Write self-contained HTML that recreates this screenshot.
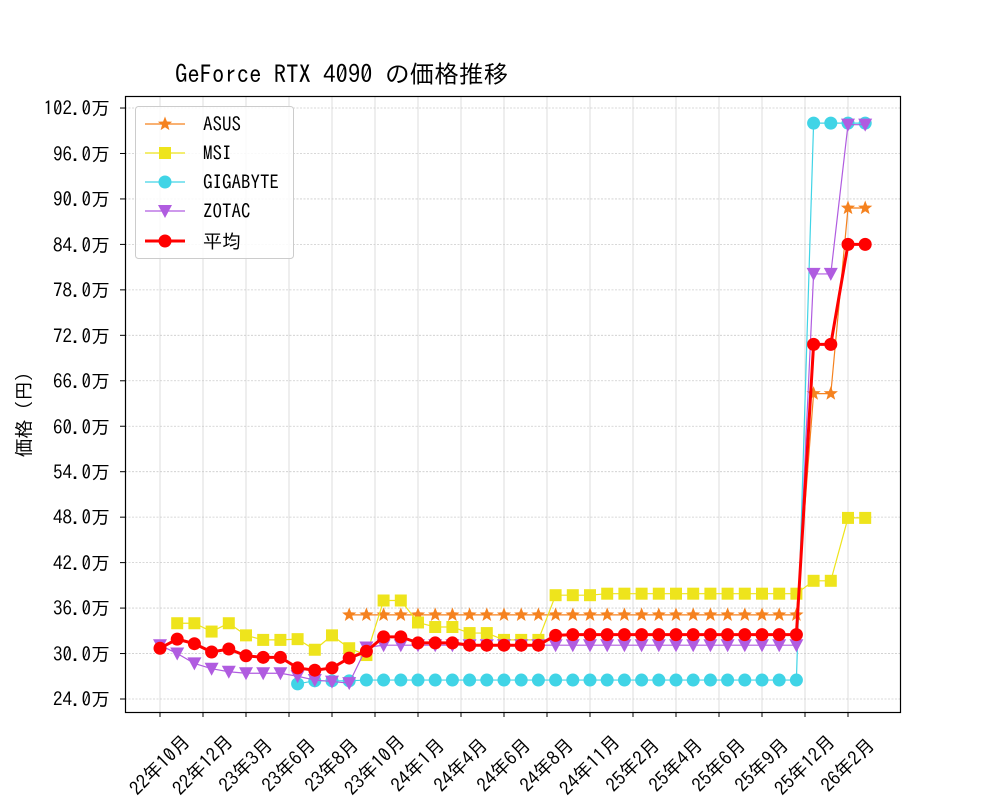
<!DOCTYPE html>
<html><head><meta charset="utf-8"><style>
html,body{margin:0;padding:0;background:#fff;}
svg text{font-family:"IPAGothic","Noto Sans CJK JP",monospace;fill:#000;}
</style></head><body>
<svg id="s" width="1000" height="800" xmlns="http://www.w3.org/2000/svg">
<rect width="1000" height="800" fill="#fff"/>
<g id="grid"></g>
<text x="175" y="83" font-size="24.7">GeForce RTX 4090 の価格推移</text>
<g font-size="19" text-anchor="end">
<text x="110" y="115">102.0万</text><text x="110" y="161">96.0万</text><text x="110" y="206">90.0万</text>
<text x="110" y="252">84.0万</text><text x="110" y="297">78.0万</text><text x="110" y="343">72.0万</text>
<text x="110" y="388">66.0万</text><text x="110" y="434">60.0万</text><text x="110" y="479">54.0万</text>
<text x="110" y="524">48.0万</text><text x="110" y="570">42.0万</text><text x="110" y="615">36.0万</text>
<text x="110" y="661">30.0万</text><text x="110" y="706">24.0万</text>
</g>
<text transform="translate(24,410) rotate(-90)" font-size="19" text-anchor="middle" dominant-baseline="central">価格（円）</text>
<g font-size="19" text-anchor="middle" dominant-baseline="central">
<text transform="translate(160,765) rotate(-45)">22年10月</text>
<text transform="translate(203,765) rotate(-45)">22年12月</text>
<text transform="translate(246,765) rotate(-45)">23年3月</text>
<text transform="translate(289,765) rotate(-45)">23年6月</text>
<text transform="translate(332,765) rotate(-45)">23年8月</text>
<text transform="translate(375,765) rotate(-45)">23年10月</text>
<text transform="translate(418,765) rotate(-45)">24年1月</text>
<text transform="translate(461,765) rotate(-45)">24年4月</text>
<text transform="translate(504,765) rotate(-45)">24年6月</text>
<text transform="translate(547,765) rotate(-45)">24年8月</text>
<text transform="translate(590,765) rotate(-45)">24年11月</text>
<text transform="translate(633,765) rotate(-45)">25年2月</text>
<text transform="translate(676,765) rotate(-45)">25年4月</text>
<text transform="translate(719,765) rotate(-45)">25年6月</text>
<text transform="translate(762,765) rotate(-45)">25年9月</text>
<text transform="translate(805,765) rotate(-45)">25年12月</text>
<text transform="translate(848,765) rotate(-45)">26年2月</text>
</g>
<g id="series"></g>
<rect x="125.5" y="96.5" width="775" height="616" fill="none" stroke="#000" stroke-width="1.2"/>
<g id="legend">
<rect x="135.5" y="106.5" width="158" height="152" rx="3" fill="#fff" fill-opacity="0.85" stroke="#ccc"/>
<g font-size="19">
<text x="203" y="131">ASUS</text><text x="203" y="160">MSI</text><text x="203" y="189">GIGABYTE</text>
<text x="203" y="218">ZOTAC</text><text x="203" y="248">平均</text>
</g>
</g>
</svg>
<script>
const NS="http://www.w3.org/2000/svg";
function el(p,t,a){const e=document.createElementNS(NS,t);for(const k in a)e.setAttribute(k,a[k]);p.appendChild(e);return e;}
const grid=document.getElementById('grid');
for(let i=0;i<17;i++){const x=160+43*i;el(grid,'line',{x1:x,x2:x,y1:96,y2:712,stroke:'#ddd','stroke-width':1});
el(grid,'line',{x1:x,x2:x,y1:712,y2:717,stroke:'#000'});}
for(let i=0;i<=13;i++){const y=699-45.46*i;el(grid,'line',{x1:125,x2:900,y1:y,y2:y,stroke:'#ccc','stroke-width':0.8,'stroke-dasharray':'2,1.5'});
el(grid,'line',{x1:120,x2:125,y1:y,y2:y,stroke:'#000'});}
const X=i=>160+17.2*i, Y=v=>699-(v-24)*7.577;
const rep=(v,n)=>Array(n).fill(v);
const N=null;
const asus=[...rep(N,11),...rep(35.1,27),64.3,64.3,88.8,88.8];
const msi=[N,34,34,32.9,34,32.4,31.8,31.8,31.9,30.5,32.4,30.7,29.8,37,37,34.1,33.5,33.5,32.7,32.7,31.8,31.8,31.8,37.7,37.7,37.7,...rep(37.9,12),39.6,39.6,47.9,47.9];
const giga=[...rep(N,8),26,26.4,26.4,26.4,...rep(26.5,26),100,100,100,100];
const zot=[31.1,30,28.7,28,27.6,27.4,27.4,27.4,27,26.5,26.3,26.1,30.8,...rep(31.1,25),80.1,80.1,99.8,99.8];
const avg=[30.7,31.9,31.3,30.2,30.6,29.7,29.5,29.5,28.1,27.8,28.1,29.4,30.3,32.2,32.2,31.4,31.4,31.4,31.1,31.1,31.1,31.1,31.1,32.4,...rep(32.5,14),70.8,70.8,84,84];
const sg=document.getElementById('series'), lg=document.getElementById('legend');
function star(g,x,y,r,c){let p=[];for(let k=0;k<10;k++){const a=-Math.PI/2+k*Math.PI/5,rr=k%2?r*0.42:r;p.push((x+rr*Math.cos(a)).toFixed(1)+','+(y+rr*Math.sin(a)).toFixed(1));}el(g,'polygon',{points:p.join(' '),fill:c});}
function mk(g,type,x,y,c){
 if(type==='s')el(g,'rect',{x:x-6,y:y-6,width:12,height:12,fill:c});
 else if(type==='o'||type==='O')el(g,'circle',{cx:x,cy:y,r:6.5,fill:c});
 else if(type==='v')el(g,'polygon',{points:`${x-7},${y-6} ${x+7},${y-6} ${x},${y+7}`,fill:c});
 else if(type==='*')star(g,x,y,7.5,c);
}
function series(d,c,type,w,ly){
 let pts=[];d.forEach((v,i)=>{if(v!==null)pts.push([X(i),Y(v)]);});
 el(sg,'polyline',{points:pts.map(p=>p.join(',')).join(' '),fill:'none',stroke:c,'stroke-width':w});
 pts.forEach(p=>mk(sg,type,p[0],p[1],c));
 el(lg,'line',{x1:145,x2:185,y1:ly,y2:ly,stroke:c,'stroke-width':w});mk(lg,type,165,ly,c);
}
series(asus,'#f5821f','*',1.2,124);
series(msi,'#eee41c','s',1.2,153);
series(giga,'#40d4e6','o',1.2,182);
series(zot,'#b05ce0','v',1.2,211);
series(avg,'#ff0000','O',3,241);
</script>
</body></html>
